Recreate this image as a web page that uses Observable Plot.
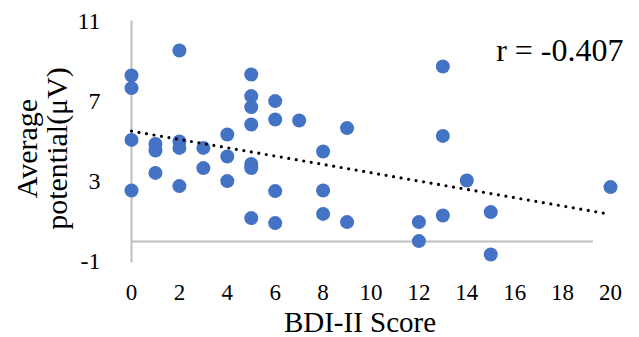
<!DOCTYPE html>
<html>
<head>
<meta charset="utf-8">
<script src="https://cdn.jsdelivr.net/npm/d3@7"></script>
<script src="https://cdn.jsdelivr.net/npm/@observablehq/plot@0.6"></script>
<style>
  html, body { margin: 0; padding: 0; background: #fff; }
  #chart { width: 639px; height: 337px; }
</style>
</head>
<body>
<div id="chart"></div>
<script>
// BDI-II score of each participant and their average potential (µV)
const score = [
  0, 0, 0, 0,
  1, 1, 1,
  2, 2, 2, 2,
  3, 3,
  4, 4, 4,
  5, 5, 5, 5, 5, 5, 5,
  6, 6, 6, 6,
  7,
  8, 8, 8,
  9, 9,
  12, 12,
  13, 13, 13,
  14,
  15, 15,
  20
];
const potential = [
  8.3, 7.67, 5.08, 2.55,
  4.88, 4.55, 3.43,
  9.55, 5.0, 4.68, 2.77,
  4.68, 3.67,
  5.35, 4.25, 3.02,
  8.35, 7.27, 6.72, 5.85, 3.88, 3.67, 1.17,
  7.02, 6.1, 2.52, 0.92,
  6.05,
  4.5, 2.55, 1.38,
  5.67, 0.97,
  0.97, 0.02,
  8.75, 5.28, 1.3,
  3.05,
  1.47, -0.65,
  2.72
];
const xTicks = [0, 2, 4, 6, 8, 10, 12, 14, 16, 18, 20];
const yTicks = [-1, 3, 7, 11];
const correlationLabel = "r = -0.407";
const xTitle = "BDI-II Score";
const yTitle = "Average\npotential(μV)";

const rows = score.map((s, i) => ({score: s, potential: potential[i]}));

const axisGray = "#bfbfbf";
const dotBlue = "#4472c4";
const plainNumber = (d) => String(d);

const chart = Plot.plot({
  width: 639,
  height: 337,
  marginLeft: 131,
  marginRight: 29,
  marginTop: 21,
  marginBottom: 76,
  x: {domain: [0, 20]},
  y: {domain: [-1, 11]},
  style: {
    fontFamily: "'Liberation Serif', 'Times New Roman', serif",
    background: "#fff",
    color: "#000"
  },
  marks: [
    Plot.frame({anchor: "left", stroke: axisGray, strokeWidth: 2, strokeOpacity: 1}),
    Plot.ruleY([0], {stroke: axisGray, strokeWidth: 2, insetRight: 17}),
    Plot.axisX({ticks: xTicks, tickFormat: plainNumber, tickSize: 0, tickPadding: 22, fontSize: 23, label: null}),
    Plot.axisY({ticks: yTicks, tickFormat: plainNumber, tickSize: 0, tickPadding: 31, fontSize: 24, label: null}),
    Plot.dot(rows, {x: "score", y: "potential", r: 7, fill: dotBlue, stroke: null}),
    Plot.linearRegressionY(rows, {
      x: "score", y: "potential", ci: 0,
      stroke: "#000", strokeWidth: 3.2,
      strokeDasharray: "0,7.6", strokeLinecap: "round"
    }),
    Plot.text([correlationLabel], {
      frameAnchor: "top-right", textAnchor: "end", lineAnchor: "bottom",
      dx: 13, dy: 39, fontSize: 32, fill: "#000"
    }),
    Plot.text([xTitle], {
      frameAnchor: "bottom", textAnchor: "middle", lineAnchor: "bottom",
      dx: -11, dy: 70, fontSize: 29, fill: "#000"
    }),
    Plot.text([yTitle], {
      frameAnchor: "left", rotate: -90, textAnchor: "middle", lineAnchor: "middle",
      dx: -89, dy: 7, fontSize: 30, lineHeight: 1, fill: "#000"
    })
  ]
});

document.getElementById("chart").append(chart);
</script>
</body>
</html>
